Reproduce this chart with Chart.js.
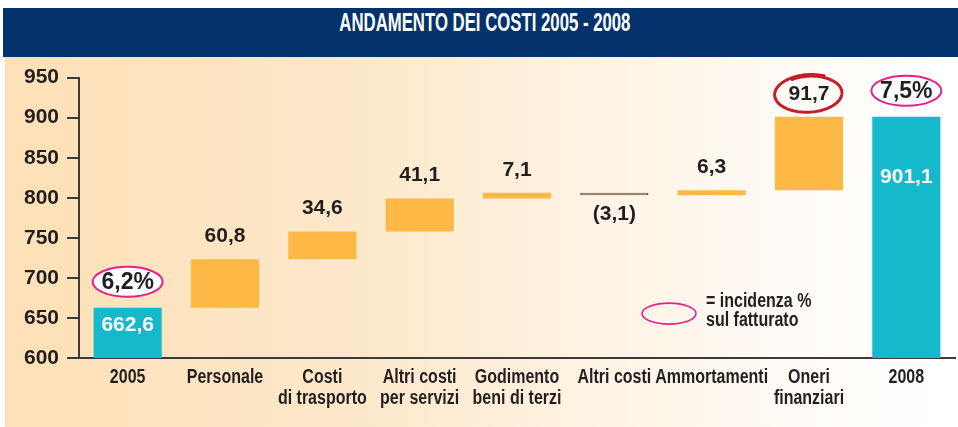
<!DOCTYPE html>
<html>
<head>
<meta charset="utf-8">
<script src="https://cdn.jsdelivr.net/npm/chart.js@4.4.1/dist/chart.umd.min.js"></script>
<style>
    body { margin: 0; background: #fff; width: 958px; height: 427px; position: relative; overflow: hidden; }
    #title {
        position: absolute; left: 3px; top: 8px; width: 955px; height: 49px;
        background: #03326c; color: #fff; text-align: center; line-height: 42px;
        font: bold 25px "Liberation Sans", Arial, sans-serif;
    }
    #title span { display: inline-block; padding-left: 14px; transform-origin: 50% 50%; }
    #panel {
        position: absolute; left: 5px; top: 57px; width: 953px; height: 370px;
        background: linear-gradient(to right, #fde0b6 0%, #fde9cd 40%, #fef4e6 65%, #fffcf8 85%, #ffffff 100%);
    }
    #chart { position: absolute; left: 0; top: 0; }
</style>
</head>
<body>
<div id="title"><span>ANDAMENTO DEI COSTI 2005 - 2008</span></div>
<div id="panel"><canvas id="chart" width="953" height="370"></canvas></div>
<script>
// categories (multi-line labels as arrays)
const categories = [
    '2005', 'Personale', ['Costi', 'di trasporto'], ['Altri costi', 'per servizi'],
    ['Godimento', 'beni di terzi'], 'Altri costi', 'Ammortamenti', ['Oneri', 'finanziari'], '2008'
];
// first and last are totals, the rest are changes
const values = [662.6, 60.8, 34.6, 41.1, 7.1, -3.1, 6.3, 91.7, 901.1];
const isTotal = [true, false, false, false, false, false, false, false, true];
// incidenza % sul fatturato, only on totals
const incidenza = [6.2, null, null, null, null, null, null, null, 7.5];
// the label circled in red
const highlighted = 7;

const yTicks = { min: 600, max: 950, step: 50 };

const colors = {
    total: '#15b9cc',
    up: '#fdb846',
    down: '#fde8c4',
    downBorder: '#4a3a2e',
    text: '#231f20',
    axis: '#3b3b3b',
    pink: '#e8208a',
    red: '#c41e2b'
};

const boldFont = '"Liberation Sans", Arial, Helvetica, sans-serif';
// no condensed face installed, so squeeze the regular bold one
const narrowScale = 0.8;

// squeeze the title to the condensed look as well
const titleSpan = document.querySelector('#title span');
titleSpan.style.transform = 'scaleX(' + (300 / titleSpan.offsetWidth).toFixed(3) + ')';

// build floating bars from the cumulative running total
const barData = [];
let running = 0;
values.forEach((v, i) => {
    if (isTotal[i]) {
        barData.push(v);
        running = v;
    } else {
        barData.push([running, running + v]);
        running = running + v;
    }
});

function fmt(v) {
    const s = Math.abs(v).toFixed(1).replace('.', ',');
    return v < 0 ? '(' + s + ')' : s;
}

function narrowText(ctx, text, x, y, align) {
    ctx.save();
    ctx.translate(x, y);
    ctx.scale(narrowScale, 1);
    ctx.textAlign = align;
    ctx.fillText(text, 0, 0);
    ctx.restore();
}

function ellipse(ctx, x, y, rx, ry, color, width) {
    ctx.save();
    ctx.beginPath();
    ctx.ellipse(x, y, rx, ry, 0, 0, Math.PI * 2);
    ctx.fillStyle = '#fff';
    ctx.fill();
    ctx.strokeStyle = color;
    ctx.lineWidth = width;
    ctx.stroke();
    ctx.restore();
}

// hand drawn looking loop, a bit more than a full turn
function sketchLoop(ctx, x, y, rx, ry, color) {
    ctx.save();
    ctx.translate(x, y);
    ctx.rotate(-0.05);
    ctx.beginPath();
    const start = -2.1;
    const sweep = Math.PI * 2 + 1.0;
    const n = 120;
    for (let k = 0; k <= n; k++) {
        const t = start + sweep * k / n;
        const grow = 0.97 + 0.1 * k / n;
        const px = Math.cos(t) * rx * grow;
        const py = Math.sin(t) * ry * grow;
        if (k === 0) ctx.moveTo(px, py); else ctx.lineTo(px, py);
    }
    ctx.strokeStyle = color;
    ctx.lineWidth = 3;
    ctx.lineCap = 'round';
    ctx.stroke();
    ctx.restore();
}

const labelsPlugin = {
    id: 'waterfallLabels',
    afterDraw(chart) {
        const ctx = chart.ctx;
        const meta = chart.getDatasetMeta(0);
        const xScale = chart.scales.x;
        const area = chart.chartArea;
        ctx.save();
        ctx.textAlign = 'center';
        ctx.textBaseline = 'middle';

        // category labels, condensed
        ctx.fillStyle = colors.text;
        ctx.font = 'bold 20px ' + boldFont;
        categories.forEach((c, i) => {
            const lines = Array.isArray(c) ? c : [c];
            const x = xScale.getPixelForTick(i);
            lines.forEach((line, j) => {
                narrowText(ctx, line, x, area.bottom + 19 + j * 21, 'center');
            });
        });

        meta.data.forEach((bar, i) => {
            const top = Math.min(bar.y, bar.base);
            const bottom = Math.max(bar.y, bar.base);
            const v = values[i];

            if (isTotal[i]) {
                ctx.font = 'bold 21px ' + boldFont;
                ctx.fillStyle = '#fff';
                const ly = i === 0 ? top + 17 : top + 60;
                ctx.fillText(fmt(v), bar.x, ly);

                if (incidenza[i] !== null) {
                    const ey = top - 26;
                    ellipse(ctx, bar.x, ey, 35, 15, colors.pink, 2);
                    ctx.font = 'bold 23px ' + boldFont;
                    ctx.fillStyle = colors.text;
                    ctx.fillText(incidenza[i].toFixed(1).replace('.', ',') + '%', bar.x, ey + 1);
                }
            } else {
                ctx.font = 'bold 21px ' + boldFont;
                ctx.fillStyle = colors.text;
                if (v < 0) {
                    ctx.fillText(fmt(v), bar.x, bottom + 19);
                } else {
                    const ly = top - 23;
                    ctx.fillText(fmt(v), bar.x, ly);
                    if (i === highlighted) {
                        sketchLoop(ctx, bar.x, ly, 33, 18, colors.red);
                    }
                }
            }
        });

        // legend for the pink ellipses
        const lx = area.left + 590;
        const ly = area.top + 236;
        ctx.beginPath();
        ctx.ellipse(lx, ly, 27, 10.5, 0, 0, Math.PI * 2);
        ctx.strokeStyle = colors.pink;
        ctx.lineWidth = 1.6;
        ctx.stroke();
        ctx.fillStyle = colors.text;
        ctx.font = 'bold 20px ' + boldFont;
        narrowText(ctx, '= incidenza %', lx + 37, ly - 12, 'left');
        narrowText(ctx, 'sul fatturato', lx + 37, ly + 7, 'left');
        ctx.restore();
    }
};

new Chart(document.getElementById('chart'), {
    type: 'bar',
    data: {
        labels: categories,
        datasets: [{
            data: barData,
            backgroundColor: values.map((v, i) => isTotal[i] ? colors.total : (v < 0 ? colors.down : colors.up)),
            borderColor: values.map((v) => v < 0 ? colors.downBorder : 'rgba(0,0,0,0)'),
            borderWidth: values.map((v) => v < 0 ? 1 : 0),
            borderSkipped: false,
            barPercentage: 0.7,
            categoryPercentage: 1
        }]
    },
    options: {
        responsive: false,
        animation: false,
        layout: { padding: { top: 15, right: 3, left: 0, bottom: 0 } },
        plugins: {
            legend: { display: false },
            tooltip: { enabled: false },
            title: { display: false }
        },
        scales: {
            x: {
                grid: { display: true, drawOnChartArea: false, drawTicks: false },
                border: { display: true, color: colors.axis, width: 2 },
                // labels are drawn by the plugin in a condensed style
                ticks: { display: false },
                afterFit(scale) { scale.height = 69; }
            },
            y: {
                min: yTicks.min,
                max: yTicks.max,
                ticks: {
                    stepSize: yTicks.step,
                    color: colors.text,
                    padding: 8,
                    font: { family: boldFont, size: 21, weight: 'bold' }
                },
                grid: { drawOnChartArea: false, drawTicks: true, tickLength: 12, color: colors.axis, lineWidth: 2 },
                border: { display: true, color: colors.axis, width: 2 },
                afterFit(scale) { scale.width = 74; }
            }
        }
    },
    plugins: [labelsPlugin]
});
</script>
</body>
</html>
